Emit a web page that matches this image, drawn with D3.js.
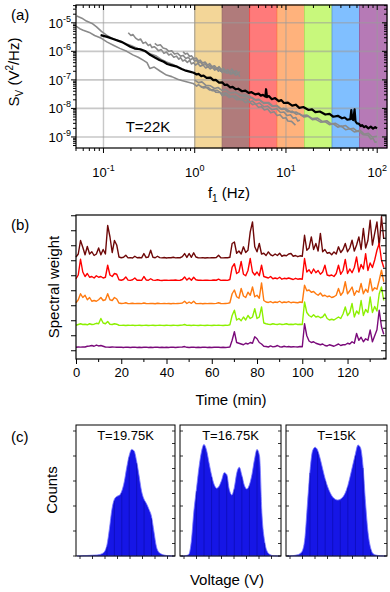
<!DOCTYPE html>
<html>
<head>
<meta charset="utf-8">
<script src="https://cdn.jsdelivr.net/npm/d3@7"></script>
<style>
body { margin: 0; background: #fff; }
text { font-family: "Liberation Sans", Arial, sans-serif; fill: #000; }
</style>
</head>
<body>
<div id="chart"></div>
<script>
// ---------- panel (a) data: [frequency Hz, S_V] ----------
const band_edges = [1, 2, 4, 8, 16, 32, 64, 128];
const band_colors = ['#f3d698', '#b07b7b', '#ff7a7a', '#ffb27c', '#c8f87c', '#80bfff', '#b67ab6'];
const band_strokes = ['#c8b080', '#9a6868', '#ff4040', '#ff9a50', '#a8e060', '#5a9ae0', '#9a5a9a'];

const spec_black = [[0.093,3.7e-6],[0.11,3.2e-6],[0.13,2.65e-6],[0.16,2.1e-6],[0.197,1.45e-6],[0.22,1.25e-6],
  [0.254,1.18e-6],[0.29,1.0e-6],[0.327,7.4e-7],[0.37,6.0e-7],[0.41,5.0e-7],[0.457,4.3e-7],[0.5,3.6e-7],
  [0.55,3.3e-7],[0.641,2.9e-7],[0.72,2.4e-7],[0.8,2.1e-7],[0.9,1.9e-7],
  [0.975,1.78e-7],[1.05,1.55e-7],[1.1,1.62e-7],[1.18,1.35e-7],[1.25,1.42e-7],[1.35,1.18e-7],[1.49,1.2e-7],
  [1.6,9.8e-8],[1.7,1.0e-7],[1.85,8.0e-8],[2.0,8.2e-8],[2.13,6.6e-8],[2.26,6.8e-8],[2.45,5.4e-8],[2.6,5.7e-8],
  [2.8,4.7e-8],[3.0,4.9e-8],[3.3,4.0e-8],[3.59,4.2e-8],[3.9,3.5e-8],[4.2,3.7e-8],[4.6,3.1e-8],[5.02,3.3e-8],
  [5.3,2.8e-8],[5.6,3.0e-8],[5.95,2.6e-8],[6.05,4.7e-8],[6.2,2.5e-8],[6.5,2.7e-8],[7.0,2.1e-8],[7.6,2.3e-8],
  [8.32,1.8e-8],[8.9,1.95e-8],[9.5,1.55e-8],[10.5,1.6e-8],[11.7,1.25e-8],[12.8,1.35e-8],[14,1.05e-8],
  [15.5,1.12e-8],[17.7,8.8e-9],[19.3,9.3e-9],[21,7.4e-9],[23.5,7.8e-9],[27,6.1e-9],[30,6.4e-9],[33,5.1e-9],
  [37,5.5e-9],[41.1,4.5e-9],[44,4.8e-9],[47,4.0e-9],[50.7,4.2e-9],[52,8.7e-9],[53,4.3e-9],[54.5,3.9e-9],
  [56.5,9.3e-9],[57.8,3.5e-9],[60,3.0e-9],[63,2.9e-9],[66,2.4e-9],[68.2,2.6e-9],[72,2.2e-9],[75,2.4e-9],
  [80,2.0e-9],[85,2.3e-9],[90,1.95e-9],[95,2.2e-9],[99.5,2.0e-9]];

const spec_gray1 = [[0.051,1.72e-5],[0.058,1.45e-5],[0.065,1.15e-5],[0.075,9.5e-6],[0.084,7.2e-6],[0.095,5.0e-6],
  [0.108,3.7e-6],[0.12,3.0e-6],[0.139,2.5e-6],[0.155,2.2e-6],[0.179,1.8e-6],[0.2,1.6e-6],[0.23,1.3e-6],
  [0.26,1.1e-6],[0.296,9.3e-7],[0.33,8.0e-7],[0.38,6.8e-7],[0.43,5.2e-7],[0.49,4.2e-7],[0.56,3.6e-7],[0.63,3.0e-7]];
const spec_gray2 = [[0.05,7.7e-6],[0.055,6.2e-6],[0.06,5.5e-6],[0.07,4.6e-6],[0.08,3.6e-6],[0.095,2.85e-6],
  [0.11,2.1e-6],[0.13,1.6e-6],[0.151,1.27e-6],[0.18,1.0e-6],[0.21,7.5e-7],[0.24,6.2e-7],[0.272,4.9e-7],
  [0.3,4.0e-7],[0.322,2.5e-7],[0.36,2.8e-7],[0.42,2.0e-7],[0.49,1.47e-7],[0.56,1.3e-7],[0.65,1.05e-7],
  [0.72,9.5e-8],[0.81,8.6e-8],[0.96,7.5e-8],[1.05,6.0e-8],[1.1,6.8e-8],[1.2,5.5e-8],[1.3,5.9e-8],[1.46,4.4e-8],
  [1.6,4.6e-8],[1.7,3.7e-8],[1.9,3.6e-8],[2.0,2.8e-8],[2.17,3.1e-8],[2.4,2.4e-8],[2.6,2.7e-8],[2.9,2.0e-8],
  [3.3,2.1e-8],[3.6,1.6e-8],[3.9,1.75e-8],[4.3,1.35e-8],[4.6,1.45e-8],[5.0,1.1e-8],[5.4,1.15e-8],[5.8,8.8e-9],
  [6.3,9.5e-9],[6.8,7.0e-9],[7.4,7.6e-9],[8.0,5.6e-9],[8.6,6.0e-9],[9.3,4.5e-9],[10.0,4.7e-9],[10.5,3.6e-9],
  [11.5,3.5e-9],[12.7,2.6e-9]];
const spec_gray3 = [[0.187,4.47e-6],[0.2,3.6e-6],[0.21,3.9e-6],[0.225,2.9e-6],[0.24,2.5e-6],[0.255,2.7e-6],
  [0.272,1.9e-6],[0.29,2.1e-6],[0.31,1.6e-6],[0.325,1.75e-6],[0.34,1.35e-6],[0.36,1.45e-6],[0.38,1.27e-6],
  [0.4,1.05e-6],[0.43,1.15e-6],[0.46,8.5e-7],[0.49,9.5e-7],[0.52,7.5e-7],[0.55,8.0e-7],[0.59,6.2e-7],
  [0.63,6.8e-7],[0.67,5.3e-7],[0.7,6.0e-7],[0.74,4.6e-7],[0.78,5.0e-7],[0.83,4.1e-7],[0.88,4.8e-7],
  [0.92,3.6e-7],[0.97,4.0e-7],[1.02,3.3e-7],[1.08,3.8e-7],[1.15,3.0e-7],[1.24,3.3e-7],[1.32,2.6e-7],
  [1.4,2.9e-7],[1.48,2.4e-7],[1.55,2.8e-7],[1.65,2.2e-7],[1.73,2.5e-7],[1.82,2.0e-7],[1.9,2.4e-7],
  [2.0,1.8e-7],[2.1,2.1e-7],[2.25,1.7e-7],[2.42,1.9e-7],[2.55,1.6e-7],[2.7,2.0e-7],[2.85,1.5e-7],
  [3.0,1.7e-7],[3.11,1.29e-7]];
const spec_gray4 = [[0.365,1.9e-6],[0.39,1.6e-6],[0.42,1.7e-6],[0.45,1.3e-6],[0.49,1.2e-6],[0.52,1.0e-6],
  [0.56,1.05e-6],[0.6,8.0e-7],[0.65,8.5e-7],[0.7,6.8e-7],[0.746,7.2e-7],[0.8,5.6e-7],[0.85,6.2e-7],
  [0.9,5.0e-7],[0.95,5.8e-7],[1.0,4.5e-7],[1.04,5.0e-7],[1.1,3.9e-7],[1.15,4.3e-7],[1.22,3.4e-7],
  [1.3,3.7e-7],[1.38,2.9e-7],[1.46,3.2e-7],[1.53,2.6e-7],[1.6,3.0e-7],[1.7,2.3e-7],[1.8,2.6e-7],
  [1.92,2.0e-7],[2.05,2.3e-7],[2.15,1.8e-7],[2.3,2.2e-7],[2.45,1.6e-7],[2.6,1.9e-7],[2.8,1.45e-7],[3.0,1.7e-7]];
const spec_gray5 = [[0.746,9.6e-7],[0.79,8.0e-7],[0.83,8.5e-7],[0.88,6.6e-7],[0.92,7.0e-7],[0.98,5.5e-7],
  [1.04,5.8e-7],[1.1,4.5e-7],[1.15,4.9e-7],[1.22,3.9e-7],[1.3,4.2e-7],[1.38,3.3e-7],[1.46,3.7e-7],
  [1.55,2.9e-7],[1.65,3.1e-7],[1.75,2.5e-7],[1.85,2.9e-7],[1.95,2.3e-7],[2.05,2.6e-7],[2.18,2.0e-7],
  [2.3,2.3e-7],[2.42,1.8e-7],[2.55,2.4e-7],[2.7,1.8e-7],[2.86,2.1e-7],[3.0,1.6e-7],[3.1,2.0e-7]];
const spec_gray6 = [[1.0,9.8e-8],[1.1,8.0e-8],[1.2,8.5e-8],[1.32,6.5e-8],[1.49,6.2e-8],[1.65,5.0e-8],[1.8,5.4e-8],
  [2.0,4.2e-8],[2.17,4.6e-8],[2.45,3.5e-8],[2.8,3.7e-8],[3.2,2.8e-8],[3.6,3.0e-8],[4.0,2.3e-8],[4.3,2.4e-8],
  [4.7,1.9e-8],[5.1,2.0e-8],[5.7,1.5e-8],[6.3,1.55e-8],[7.0,1.2e-8],[7.9,1.25e-8],[8.7,9.5e-9],[9.5,1.0e-8],
  [10.5,7.6e-9],[11.7,8.0e-9],[13,6.2e-9],[14,6.6e-9],[15.8,5.0e-9],[17.6,5.3e-9],[19.5,4.0e-9],[21,4.2e-9],
  [24,3.3e-9],[27,3.4e-9],[30,2.7e-9],[33,2.9e-9],[37,2.2e-9],[40.4,2.4e-9],[45,1.8e-9],[50,1.95e-9],
  [56,1.5e-9],[62.7,1.6e-9],[70,1.2e-9],[79.7,1.15e-9],[85,8.5e-10],[90,9.0e-10],[95,6.5e-10],[99,6.8e-10]];
const spec_gray7 = [[1.15,6.1e-8],[1.25,5.2e-8],[1.4,5.5e-8],[1.55,4.2e-8],[1.77,4.3e-8],[2.0,3.3e-8],[2.2,3.5e-8],
  [2.5,2.6e-8],[2.8,2.7e-8],[3.2,2.0e-8],[3.6,2.2e-8],[4.0,1.7e-8],[4.3,1.8e-8],[4.7,1.4e-8],[5.1,1.55e-8],
  [5.7,1.15e-8],[6.3,1.2e-8],[7.0,9.0e-9],[7.9,9.8e-9],[8.7,7.2e-9],[9.5,7.5e-9],[10.3,5.6e-9],[11.2,6.0e-9],
  [12.0,4.5e-9],[12.8,4.8e-9],[13.5,3.6e-9],[14.2,3.9e-9]];
const spec_gray8 = [[3,3.2e-8],[3.5,2.6e-8],[4,2.7e-8],[4.5,2.0e-8],[5,2.1e-8],[5.7,1.6e-8],[6.5,1.6e-8],[7.2,1.2e-8],
  [8,1.25e-8],[9,9.2e-9],[10,9.6e-9],[11.5,7.2e-9],[13,7.4e-9],[15,5.6e-9],[17,5.8e-9],[19.5,4.4e-9],[22,4.6e-9],
  [25,3.5e-9],[28,3.7e-9],[31,2.9e-9],[35,3.0e-9],[40,2.3e-9],[45,2.5e-9],[50,1.9e-9],[55,2.0e-9],[60,1.6e-9],
  [65,1.7e-9],[72,1.25e-9],[80,1.35e-9],[88,1.0e-9],[99,1.05e-9]];
const gray_spectra = [spec_gray1, spec_gray2, spec_gray3, spec_gray4, spec_gray5, spec_gray6, spec_gray7, spec_gray8];

const a_xticks = [0.1, 1, 10, 100];
const a_xlabels = ['-1', '0', '1', '2'];
const a_yticks = [1e-5, 1e-6, 1e-7, 1e-8, 1e-9];
const a_ylabels = ['-5', '-6', '-7', '-8', '-9'];

// ---------- panel (b) data: spectral weight per minute ----------
const time_min = d3.range(137);
const trace_colors = ['#6e0808', '#ff0000', '#ff7a10', '#8cf000', '#7a0a7a'];
const trace_offsets = [6.15, 4.65, 3.1, 1.65, 0.2];
const w_maroon = [0.1,0.3,1.2,0.75,0.25,0.8,0.3,0.45,0.2,0.3,
  0.7,0.25,0.6,0.3,2.2,1.45,0.4,1.2,0.9,0.1,
  0.05,0.08,0.22,0.04,0.06,0.03,0.15,0.05,0.07,0.04,
  0.33,0.06,0.1,0.55,0.08,0.05,0.15,0.06,0.04,0.07,
  0.03,0.06,0.05,0.08,0.04,0.06,0.05,0.12,0.33,0.07,
  0.33,0.08,0.38,0.1,0.05,0.04,0.06,0.03,0.05,0.04,
  0.06,0.05,0.07,0.22,0.05,0.04,0.06,0.05,0.08,1.0,
  1.1,0.35,0.5,0.3,0.78,0.4,0.55,1.78,2.44,0.78,
  0.45,1.0,0.3,0.35,0.2,0.44,0.25,0.18,0.3,0.2,
  0.35,0.15,0.22,0.18,0.3,0.33,0.15,0.2,0.12,0.18,
  0.15,1.55,0.55,0.7,1.44,0.6,1.0,0.5,1.67,0.45,
  0.6,0.35,0.4,0.25,0.44,0.3,0.78,0.4,0.6,1.0,
  0.45,0.7,1.22,0.5,0.9,1.44,0.6,2.0,0.7,1.2,
  2.55,0.9,1.67,2.44,0.8,2.78,1.3];
const w_red = [0.15,0.4,1.45,0.6,0.3,0.5,0.25,0.3,0.2,0.35,
  0.25,0.3,0.2,0.25,1.05,0.4,0.3,0.5,0.45,0.08,
  0.05,0.1,0.27,0.06,0.04,0.08,0.2,0.05,0.06,0.04,
  0.3,0.07,0.05,0.15,0.06,0.04,0.08,0.05,0.03,0.06,
  0.05,0.04,0.06,0.05,0.07,0.04,0.05,0.1,0.27,0.06,
  0.2,0.05,0.25,0.08,0.05,0.06,0.04,0.05,0.06,0.04,
  0.05,0.07,0.05,0.12,0.04,0.06,0.05,0.04,0.1,0.93,
  1.15,0.5,0.6,1.3,0.45,0.35,0.7,1.5,0.6,0.4,
  0.6,0.35,1.05,0.3,0.25,0.2,0.3,0.15,0.2,0.15,
  0.25,0.12,0.18,0.15,0.2,0.15,0.1,0.18,0.12,0.15,
  0.12,1.5,0.6,0.75,0.5,0.8,0.55,0.7,0.45,0.6,
  1.05,0.4,0.35,0.4,0.3,0.5,1.05,0.45,0.7,1.44,
  0.5,0.8,0.55,0.9,1.6,0.6,1.1,0.8,1.82,0.7,
  1.2,0.9,1.4,2.05,2.5,1.4,0.9];
const w_orange = [0.1,0.3,0.7,0.45,0.6,0.3,0.45,0.2,0.25,0.2,
  0.3,0.45,0.25,0.3,0.7,0.3,0.25,0.45,0.35,0.08,
  0.05,0.06,0.1,0.04,0.05,0.07,0.04,0.06,0.05,0.04,
  0.08,0.05,0.04,0.06,0.05,0.03,0.07,0.05,0.04,0.06,
  0.04,0.05,0.03,0.06,0.04,0.05,0.06,0.08,0.2,0.05,
  0.15,0.06,0.2,0.05,0.04,0.06,0.03,0.05,0.04,0.06,
  0.05,0.04,0.06,0.1,0.05,0.04,0.05,0.06,0.1,0.7,
  0.95,0.5,0.4,1.05,0.55,0.45,0.8,0.6,1.15,0.5,
  0.6,0.4,1.42,0.25,0.15,0.12,0.18,0.1,0.15,0.12,
  0.2,0.1,0.15,0.12,0.18,0.1,0.14,0.12,0.1,0.15,
  0.12,1.27,0.9,0.95,0.8,0.85,0.7,0.6,0.75,0.55,
  0.6,0.5,0.55,0.45,0.5,0.6,1.05,0.6,0.8,1.5,
  0.7,0.9,1.15,0.6,0.9,0.8,1.38,0.7,1.0,0.8,
  1.7,0.9,1.1,1.0,1.6,2.27,1.5];
const w_green = [0.05,0.1,0.15,0.1,0.12,0.08,0.15,0.1,0.12,0.18,
  0.15,0.5,0.2,0.15,0.3,0.12,0.1,0.15,0.12,0.05,
  0.04,0.05,0.03,0.05,0.04,0.06,0.03,0.04,0.05,0.03,
  0.04,0.05,0.03,0.04,0.05,0.03,0.04,0.05,0.04,0.03,
  0.05,0.04,0.03,0.05,0.04,0.03,0.05,0.06,0.1,0.04,
  0.05,0.03,0.06,0.04,0.03,0.05,0.04,0.03,0.05,0.04,
  0.03,0.05,0.04,0.06,0.04,0.03,0.05,0.04,0.08,0.7,
  1.05,0.4,0.5,0.35,0.6,0.4,0.7,0.5,0.6,1.15,
  0.5,0.6,1.27,0.2,0.15,0.12,0.1,0.15,0.12,0.1,
  0.14,0.1,0.12,0.15,0.1,0.12,0.1,0.14,0.1,0.12,
  0.1,1.6,0.9,0.7,0.6,0.75,0.6,0.65,0.55,0.6,
  0.8,0.5,0.4,0.45,0.4,0.5,0.6,0.5,0.8,1.27,
  0.7,0.9,1.5,0.6,1.0,0.8,1.7,0.7,1.1,0.9,
  1.93,0.9,1.3,1.0,2.15,2.6,1.7];
const w_purple = [0.03,0.05,0.04,0.06,0.05,0.1,0.12,0.15,0.1,0.18,
  0.12,0.15,0.1,0.05,0.04,0.03,0.05,0.04,0.03,0.04,
  0.03,0.02,0.04,0.03,0.02,0.03,0.04,0.02,0.03,0.02,
  0.03,0.04,0.02,0.03,0.02,0.04,0.03,0.02,0.03,0.02,
  0.03,0.02,0.04,0.03,0.02,0.03,0.04,0.05,0.08,0.03,
  0.02,0.03,0.04,0.02,0.03,0.02,0.03,0.04,0.02,0.03,
  0.02,0.03,0.04,0.03,0.02,0.03,0.02,0.03,0.05,0.5,
  1.07,0.35,0.3,0.25,0.2,0.3,0.25,0.35,0.3,0.73,
  0.6,0.35,0.25,0.1,0.08,0.05,0.12,0.06,0.08,0.15,
  0.07,0.05,0.1,0.06,0.08,0.05,0.07,0.06,0.05,0.08,
  0.07,1.6,0.8,0.45,0.35,0.4,0.3,0.25,0.2,0.25,
  0.15,0.12,0.2,0.15,0.1,0.18,0.25,0.15,0.2,0.2,
  0.3,0.25,0.4,0.3,0.95,0.5,0.7,0.4,0.6,0.5,
  1.18,0.4,0.8,1.2,2.5,1.4,0.9];
const weight_traces = [w_maroon, w_red, w_orange, w_green, w_purple];
const b_xticks = [0, 20, 40, 60, 80, 100, 120];

// ---------- panel (c) data: histogram counts, 40 voltage bins ----------
const hist_titles = ['T=19.75K', 'T=16.75K', 'T=15K'];
const counts_1975 = [5,5,10,16,21,26,31,37,42,58,94,173,440,1095,1865,2269,2384,2426,2599,2971,
  3547,4024,4265,4202,3789,3202,2589,2269,2091,1865,1588,975,372,147,79,42,21,10,5,3];
const counts_1675 = [0,5,21,68,603,1803,2667,3532,4171,4464,4239,3731,3238,2866,2709,2798,3039,3333,3265,2667,
  2442,2735,3333,3547,3228,2824,2678,2856,3265,3867,4265,3998,1598,603,189,68,21,10,5,2];
const counts_15 = [3,5,13,26,47,94,215,734,2106,3401,4202,4349,4239,3909,3495,3092,2772,2531,2358,2269,
  2237,2269,2358,2531,2824,3228,3668,4092,4438,4333,3600,2133,933,335,94,42,21,10,5,2];
const hist_counts = [counts_1975, counts_1675, counts_15];

// ---------- layout ----------
const W = 390, H = 592;
const svg = d3.select('#chart').append('svg').attr('width', W).attr('height', H);

const frame_width = 1.2;

function panel_letter(txt, y) {
  svg.append('text').attr('x', 11).attr('y', y).style('font-size', '15px').text(txt);
}

function is_decade(v) {
  const l = Math.log10(v);
  return Math.abs(l - Math.round(l)) < 1e-6;
}

function pow_label(g, x, y, exp, anchor) {
  const t = g.append('text')
    .attr('x', x).attr('y', y)
    .attr('text-anchor', anchor)
    .style('font-size', '13px');
  t.append('tspan').text('10');
  t.append('tspan').attr('dy', -6).style('font-size', '9px').text(exp);
}

// ================= panel (a) =================
const xa = d3.scaleLog().domain([0.05, 128]).range([76, 387]);
const ya = d3.scaleLog().domain([4.1e-10, 4.2e-5]).range([148, 5]);
const ga = svg.append('g');

ga.selectAll('.band')
  .data(band_colors)
  .enter().append('rect')
    .attr('class', 'band')
    .attr('x', (d, i) => xa(band_edges[i]))
    .attr('width', (d, i) => xa(band_edges[i + 1]) - xa(band_edges[i]))
    .attr('y', ya.range()[1])
    .attr('height', ya.range()[0] - ya.range()[1])
    .attr('fill', (d) => d)
    .attr('stroke', (d, i) => band_strokes[i])
    .attr('stroke-width', 0.8);

ga.selectAll('.vgrid')
  .data(a_xticks)
  .enter().append('line')
    .attr('x1', (d) => xa(d)).attr('x2', (d) => xa(d))
    .attr('y1', ya.range()[1]).attr('y2', ya.range()[0])
    .attr('stroke', '#9a9a9a').attr('stroke-opacity', 0.55).attr('stroke-width', 1.4);
ga.selectAll('.hgrid')
  .data(a_yticks)
  .enter().append('line')
    .attr('x1', xa.range()[0]).attr('x2', xa.range()[1])
    .attr('y1', (d) => ya(d)).attr('y2', (d) => ya(d))
    .attr('stroke', '#9a9a9a').attr('stroke-opacity', 0.55).attr('stroke-width', 1.6);

const spec_line = d3.line().x((d) => xa(d[0])).y((d) => ya(d[1]));

ga.selectAll('.gray_spec')
  .data(gray_spectra)
  .enter().append('path')
    .attr('d', spec_line)
    .attr('fill', 'none')
    .attr('stroke', '#8a8a8a')
    .attr('stroke-width', 1.6)
    .attr('stroke-linejoin', 'round');

ga.append('path')
  .datum(spec_black)
  .attr('d', spec_line)
  .attr('fill', 'none')
  .attr('stroke', '#000')
  .attr('stroke-width', 2.2)
  .attr('stroke-linejoin', 'round');

ga.append('rect')
  .attr('x', 76).attr('y', 5).attr('width', 311).attr('height', 143)
  .attr('fill', 'none').attr('stroke', '#000').attr('stroke-width', frame_width);

// log ticks
const xa_ticks = xa.ticks();
const ya_ticks = ya.ticks();
ga.selectAll('.xtb')
  .data(xa_ticks)
  .enter().append('line')
    .attr('x1', (d) => xa(d)).attr('x2', (d) => xa(d))
    .attr('y1', 148).attr('y2', (d) => 148 + (is_decade(d) ? 5 : 3))
    .attr('stroke', '#000').attr('stroke-width', 1);
ga.selectAll('.xtt')
  .data(xa_ticks)
  .enter().append('line')
    .attr('x1', (d) => xa(d)).attr('x2', (d) => xa(d))
    .attr('y1', 5).attr('y2', (d) => 5 + (is_decade(d) ? 5 : 3))
    .attr('stroke', '#000').attr('stroke-width', 1);
ga.selectAll('.ytl')
  .data(ya_ticks)
  .enter().append('line')
    .attr('y1', (d) => ya(d)).attr('y2', (d) => ya(d))
    .attr('x1', 76).attr('x2', (d) => 76 - (is_decade(d) ? 5 : 3))
    .attr('stroke', '#000').attr('stroke-width', 1);
ga.selectAll('.ytr')
  .data(ya_ticks)
  .enter().append('line')
    .attr('y1', (d) => ya(d)).attr('y2', (d) => ya(d))
    .attr('x1', 387).attr('x2', (d) => 387 - (is_decade(d) ? 5 : 3))
    .attr('stroke', '#000').attr('stroke-width', 1);

a_xticks.forEach((v, i) => pow_label(ga, xa(v), 177, a_xlabels[i], 'middle'));
a_yticks.forEach((v, i) => pow_label(ga, 71, ya(v) + 5, a_ylabels[i], 'end'));

const ya_title = ga.append('text')
  .attr('transform', 'translate(19,72) rotate(-90)')
  .attr('text-anchor', 'middle')
  .style('font-size', '15px');
ya_title.append('tspan').text('S');
ya_title.append('tspan').attr('dy', 4).style('font-size', '10px').text('V');
ya_title.append('tspan').attr('dy', -4).text(' (V');
ya_title.append('tspan').attr('dy', -6).style('font-size', '10px').text('2');
ya_title.append('tspan').attr('dy', 6).text('/Hz)');

const xa_title = ga.append('text')
  .attr('x', 229).attr('y', 198)
  .attr('text-anchor', 'middle')
  .style('font-size', '15px');
xa_title.append('tspan').text('f');
xa_title.append('tspan').attr('dy', 4).style('font-size', '10px').text('1');
xa_title.append('tspan').attr('dy', -4).text(' (Hz)');

ga.append('text')
  .attr('x', 148).attr('y', 132)
  .attr('text-anchor', 'middle')
  .style('font-size', '15px')
  .text('T=22K');

panel_letter('(a)', 20);

// ================= panel (b) =================
const xb = d3.scaleLinear().domain([0, 137]).range([76, 386]);
const yb = d3.scaleLinear().domain([-0.55, 9.05]).range([359, 215]);
const gb = svg.append('g');

const trace_line = (off) => d3.line()
  .x((d, i) => xb(time_min[i]))
  .y((d) => yb(d + off));

gb.selectAll('.trace')
  .data(weight_traces)
  .enter().append('path')
    .attr('class', 'trace')
    .attr('d', (d, i) => trace_line(trace_offsets[i])(d))
    .attr('fill', 'none')
    .attr('stroke', (d, i) => trace_colors[i])
    .attr('stroke-width', 1.4)
    .attr('stroke-linejoin', 'round');

gb.append('rect')
  .attr('x', 76).attr('y', 215).attr('width', 310).attr('height', 144)
  .attr('fill', 'none').attr('stroke', '#000').attr('stroke-width', frame_width);

const xb_axis = d3.axisBottom(xb).tickValues(b_xticks).tickSize(5).tickSizeOuter(0).tickPadding(4);
gb.append('g')
  .attr('transform', 'translate(0,359)')
  .call(xb_axis)
  .call((g) => g.select('.domain').remove())
  .call((g) => g.selectAll('text').style('font-size', '13px').style('font-family', '"Liberation Sans", Arial, sans-serif'));
gb.selectAll('.xminor')
  .data([10, 30, 50, 70, 90, 110, 130])
  .enter().append('line')
    .attr('x1', (d) => xb(d)).attr('x2', (d) => xb(d))
    .attr('y1', 359).attr('y2', 362)
    .attr('stroke', '#000');
gb.selectAll('.yl')
  .data(d3.range(0, 9.01, 1))
  .enter().append('line')
    .attr('x1', 76).attr('x2', 71)
    .attr('y1', (d) => yb(d)).attr('y2', (d) => yb(d))
    .attr('stroke', '#000');
gb.selectAll('.yr')
  .data(d3.range(-0.5, 9.01, 0.5))
  .enter().append('line')
    .attr('x1', 386).attr('x2', (d) => (Number.isInteger(d) ? 381 : 383))
    .attr('y1', (d) => yb(d)).attr('y2', (d) => yb(d))
    .attr('stroke', '#000');

gb.append('text')
  .attr('x', 231).attr('y', 405)
  .attr('text-anchor', 'middle')
  .style('font-size', '15px')
  .text('Time (min)');
gb.append('text')
  .attr('transform', 'translate(59,287) rotate(-90)')
  .attr('text-anchor', 'middle')
  .style('font-size', '15px')
  .text('Spectral weight');

panel_letter('(b)', 230);

// ================= panel (c) =================
const hist_x0 = [76, 180, 286];
const hist_w = [99, 101, 101];
const yc = d3.scaleLinear().domain([0, 5240]).range([556, 425]);
const gc = svg.append('g');

hist_counts.forEach((counts, k) => {
  const xc = d3.scaleBand().domain(d3.range(counts.length)).range([hist_x0[k], hist_x0[k] + hist_w[k]]);
  const mid = (i) => xc(i) + xc.bandwidth() / 2;
  const g = gc.append('g');
  const hist_area = d3.area()
    .x((d, i) => mid(i))
    .y0(yc(0))
    .y1((d) => yc(d))
    .curve(d3.curveMonotoneX);
  g.append('path')
    .datum(counts)
    .attr('d', hist_area)
    .attr('fill', '#1616e6')
    .attr('stroke', '#7878ff')
    .attr('stroke-width', 0.8);
  // darker bin separators
  g.selectAll('.sep')
    .data(counts.map((d, i) => [i, d]).filter((p) => p[0] % 3 === 0 && p[1] > 200))
    .enter().append('line')
      .attr('x1', (p) => mid(p[0]))
      .attr('x2', (p) => mid(p[0]))
      .attr('y1', yc(0))
      .attr('y2', (p) => yc(p[1]) + 2)
      .attr('stroke', '#0a0aa8')
      .attr('stroke-width', 0.6);
  g.append('rect')
    .attr('x', hist_x0[k]).attr('y', 425).attr('width', hist_w[k]).attr('height', 131)
    .attr('fill', 'none').attr('stroke', '#000').attr('stroke-width', 1);
  g.selectAll('.bt')
    .data(d3.range(hist_x0[k] + 4, hist_x0[k] + hist_w[k], 12.5))
    .enter().append('line')
      .attr('x1', (d) => d).attr('x2', (d) => d)
      .attr('y1', 556).attr('y2', 559)
      .attr('stroke', '#000').attr('stroke-width', 0.8);
  g.selectAll('.lt')
    .data(d3.range(0, 5241, 1000))
    .enter().append('line')
      .attr('x1', hist_x0[k]).attr('x2', hist_x0[k] + (k === 0 ? -3 : 3))
      .attr('y1', (d) => yc(d)).attr('y2', (d) => yc(d))
      .attr('stroke', '#000').attr('stroke-width', 0.8);
  g.selectAll('.rt')
    .data(d3.range(0, 5241, 500))
    .enter().append('line')
      .attr('x1', hist_x0[k] + hist_w[k]).attr('x2', hist_x0[k] + hist_w[k] - 3)
      .attr('y1', (d) => yc(d)).attr('y2', (d) => yc(d))
      .attr('stroke', '#000').attr('stroke-width', 0.8);
  g.append('text')
    .attr('x', hist_x0[k] + hist_w[k] / 2).attr('y', 440)
    .attr('text-anchor', 'middle')
    .style('font-size', '13px')
    .text(hist_titles[k]);
});

gc.append('text')
  .attr('transform', 'translate(57,490) rotate(-90)')
  .attr('text-anchor', 'middle')
  .style('font-size', '15px')
  .text('Counts');
gc.append('text')
  .attr('x', 227).attr('y', 585)
  .attr('text-anchor', 'middle')
  .style('font-size', '15px')
  .text('Voltage (V)');

panel_letter('(c)', 442);
</script>
</body>
</html>
